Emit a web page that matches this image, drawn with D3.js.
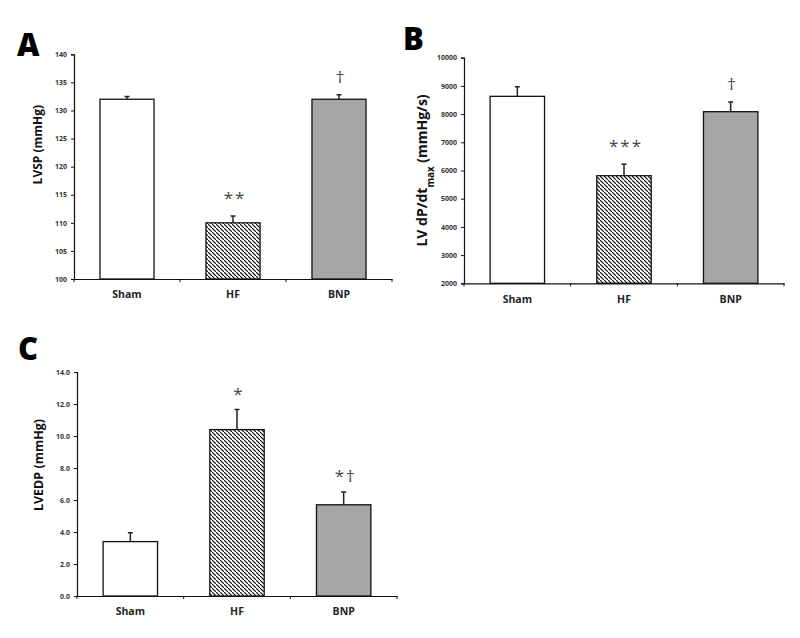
<!DOCTYPE html>
<html>
<head>
<meta charset="utf-8">
<script src="https://cdn.jsdelivr.net/npm/d3@7"></script>
<style>
  body { margin: 0; background: #fff; }
  svg { display: block; }
  text { font-family: "Open Sans", "DejaVu Sans", sans-serif; }
</style>
</head>
<body>
<div id="chart"></div>
<script>
// Data
var groups = ["Sham", "HF", "BNP"];

var lvspMean = [132, 110, 132];
var lvspErr = [0.5, 1.2, 0.8];
var lvspMarks = ["", "**", "\u2020"];
var lvspTicks = [100, 105, 110, 115, 120, 125, 130, 135, 140];

var dpdtMean = [8630, 5815, 8085];
var dpdtErr = [340, 405, 345];
var dpdtMarks = ["", "***", "\u2020"];
var dpdtTicks = [2000, 3000, 4000, 5000, 6000, 7000, 8000, 9000, 10000];

var lvedpMean = [3.4, 10.4, 5.7];
var lvedpErr = [0.55, 1.25, 0.8];
var lvedpMarks = ["", "*", "*\u2020"];
var lvedpTicks = [0, 2, 4, 6, 8, 10, 12, 14];

var barFills = ["#ffffff", "url(#hatch)", "#a6a6a6"];

// Set up SVG in page
var svgWdt = 800;
var svgHgt = 638;

var svg = d3.select("#chart").append("svg")
    .attr("width", svgWdt)
    .attr("height", svgHgt);

// diagonal hatch for the HF bar
var defs = svg.append("defs");
defs.append("pattern")
    .attr("id", "hatch")
    .attr("patternUnits", "userSpaceOnUse")
    .attr("width", 4)
    .attr("height", 4)
  .append("path")
    .attr("d", "M-1,-1 l2,2 M0,0 l4,4 M3,3 l2,2")
    .attr("stroke", "#111")
    .attr("stroke-width", 1.2);

// Draw one bar panel
function drawPanel(p) {
    var grp = svg.append("g");

    var x = d3.scaleBand().domain(groups)
        .range([p.left, p.right])
        .paddingInner(0.49)
        .paddingOuter(0.245);

    var y = d3.scaleLinear().domain(p.domain)
        .range([p.bottom, p.top]);

    // Y axis
    var leftAx = d3.axisLeft(y)
        .tickValues(p.ticks)
        .tickSize(3)
        .tickPadding(4)
        .tickFormat(p.fmt);
    var yAxis = grp.append("g")
        .attr("transform", `translate(${p.left}, 0)`)
        .call(leftAx);
    yAxis.select(".domain").attr("stroke", "#111").attr("stroke-width", 1.2);
    yAxis.selectAll(".tick line").attr("stroke", "#111");
    yAxis.selectAll(".tick text")
        .attr("font-size", 7)
        .attr("font-weight", 700)
        .attr("fill", "#333");

    // X axis with labels only, boundary ticks drawn separately
    var botAx = d3.axisBottom(x).tickSize(0).tickPadding(12);
    var xAxis = grp.append("g")
        .attr("transform", `translate(0, ${p.bottom})`)
        .call(botAx);
    xAxis.select(".domain").attr("stroke", "#111").attr("stroke-width", 1.2);
    xAxis.selectAll(".tick text")
        .attr("font-size", 10.5)
        .attr("font-weight", 700)
        .attr("fill", "#222");

    var step = x.step();
    grp.selectAll(".bnd").data(d3.range(groups.length + 1))
        .enter()
        .append("line")
            .attr("x1", i => p.left + i * step)
            .attr("x2", i => p.left + i * step)
            .attr("y1", p.bottom)
            .attr("y2", p.bottom + 3)
            .attr("stroke", "#111");

    var rows = groups.map((g, i) => ({g: g, m: p.mean[i], e: p.err[i], s: p.marks[i], f: barFills[i]}));

    // error bars (drawn first so bar outline sits on top)
    grp.selectAll(".err").data(rows)
        .enter()
        .append("path")
            .attr("d", d => {
                var cx = x(d.g) + x.bandwidth() / 2;
                return `M${cx},${y(d.m)}V${y(d.m + d.e)}M${cx - 2.5},${y(d.m + d.e)}H${cx + 2.5}`;
            })
            .attr("stroke", "#222")
            .attr("stroke-width", 1.5)
            .attr("fill", "none");

    // bars
    grp.selectAll(".bar").data(rows)
        .enter()
        .append("rect")
            .attr("x", d => x(d.g))
            .attr("y", d => y(d.m))
            .attr("width", x.bandwidth())
            .attr("height", d => p.bottom - y(d.m))
            .attr("fill", d => d.f)
            .attr("stroke", "#111")
            .attr("stroke-width", 1.3);

    // significance marks
    grp.selectAll(".sig").data(rows)
        .enter()
        .append("text")
            .attr("x", d => x(d.g) + x.bandwidth() / 2 + 2)
            .attr("y", d => y(d.m + d.e) - p.markGap)
            .attr("text-anchor", "middle")
            .attr("font-family", "DejaVu Sans, sans-serif")
            .attr("font-size", 17)
            .attr("letter-spacing", 2)
            .attr("fill", "#444")
            .text(d => d.s);

    // y label
    var lbl = grp.append("text")
        .attr("transform", `translate(${p.labelX}, ${(p.top + p.bottom) / 2 + p.labelDy}) rotate(-90)`)
        .attr("text-anchor", "middle")
        .attr("font-size", p.labelSize)
        .attr("font-weight", 700)
        .attr("fill", "#111");
    p.label.forEach(part => {
        var t = lbl.append("tspan").text(part[0]);
        if (part[1]) t.attr("baseline-shift", "sub").attr("font-size", p.labelSize * 0.7);
    });

    // panel letter
    grp.append("text")
        .attr("x", p.letterX)
        .attr("y", p.letterY)
        .attr("font-size", 31)
        .attr("font-weight", 800)
        .attr("fill", "#000")
        .text(p.letter);
}

drawPanel({
    letter: "A", letterX: 17, letterY: 56,
    left: 74, right: 392, top: 54.3, bottom: 279,
    domain: [100, 140], ticks: lvspTicks, fmt: d3.format("d"),
    mean: lvspMean, err: lvspErr, marks: lvspMarks, markGap: 12,
    label: [["LVSP (mmHg)"]], labelX: 42, labelDy: -22, labelSize: 12
});

drawPanel({
    letter: "B", letterX: 403, letterY: 50,
    left: 464, right: 784, top: 57.7, bottom: 283.3,
    domain: [2000, 10000], ticks: dpdtTicks, fmt: d3.format("d"),
    mean: dpdtMean, err: dpdtErr, marks: dpdtMarks, markGap: 12,
    label: [["LV dP/dt"], ["max", true], [" (mmHg/s)"]], labelX: 427, labelDy: 0, labelSize: 14
});

drawPanel({
    letter: "C", letterX: 18, letterY: 360,
    left: 77, right: 397, top: 372, bottom: 596,
    domain: [0, 14], ticks: lvedpTicks, fmt: d3.format(".1f"),
    mean: lvedpMean, err: lvedpErr, marks: lvedpMarks, markGap: 10,
    label: [["LVEDP (mmHg)"]], labelX: 43, labelDy: -19, labelSize: 12.5
});
</script>
</body>
</html>
